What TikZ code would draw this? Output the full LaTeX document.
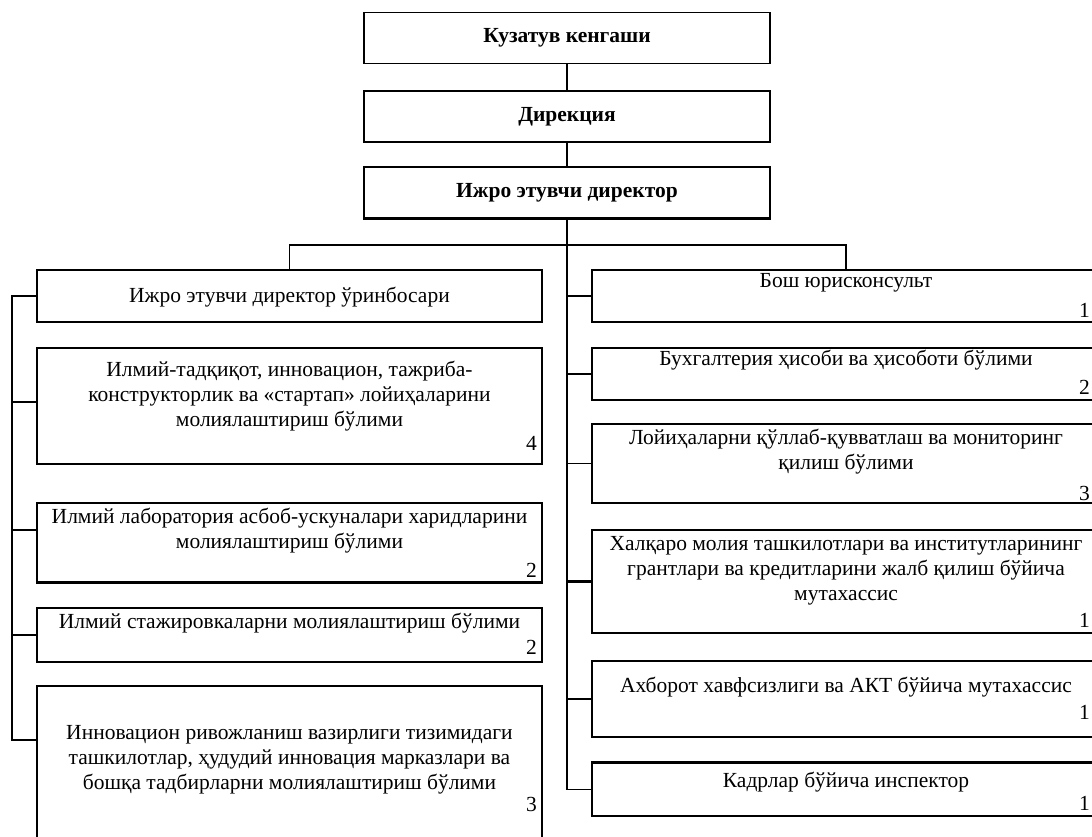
\documentclass[tikz,border=0pt]{standalone}
\usepackage{fontspec}
\setmainfont{Liberation Serif}
\usetikzlibrary{calc}

\begin{document}
\begin{tikzpicture}[x=1pt,y=-1pt,
    box/.style={draw,line width=1.5pt,inner sep=0pt},
    topbox/.style={box,minimum width=406pt,minimum height=51pt,font=\fontsize{21.5}{25}\selectfont\bfseries},
    lbox/.style={box,minimum width=505pt},
    rbox/.style={box,minimum width=508pt},
    txt/.style={align=center,inner sep=0pt,font=\fontsize{21.5}{25}\selectfont},
    num/.style={anchor=east,inner sep=0pt,font=\fontsize{21.5}{25}\selectfont},
    link/.style={line width=1.5pt}]
\useasboundingbox (0,0) rectangle (1092,837);
\clip (0,0) rectangle (1092,837);

% top of the chart
\node[topbox] (kuz) at (567,38) {Кузатув кенгаши};
\node[topbox] (dir) at (567,116.5) {Дирекция};
\node[topbox] (ijr) at (567,192.5) {Ижро этувчи директор};
\draw[line width=2.6pt] (ijr.south west) -- (ijr.south east);

% left column
\node[lbox,minimum height=52pt]  (dep) at (289.5,296) {};
\node[lbox,minimum height=116pt] (tad) at (289.5,406) {};
\node[lbox,minimum height=79pt]  (lab) at (289.5,542.5) {};
\node[lbox,minimum height=54pt]  (sta) at (289.5,635) {};
\node[lbox,minimum height=180pt] (inn) at (289.5,776) {};
\draw[line width=2.6pt] (lab.south west) -- (lab.south east);

\node[txt] (dep-t) at (289.5,297) {Ижро этувчи директор ўринбосари};
\node[txt] (tad-t) at (289.5,396) {Илмий-тадқиқот, инновацион, тажриба-\\конструкторлик ва «стартап» лойиҳаларини\\молиялаштириш бўлими};
\node[txt] (lab-t) at (289.5,531) {Илмий лаборатория асбоб-ускуналари харидларини\\молиялаштириш бўлими};
\node[txt] (sta-t) at (289.5,623) {Илмий стажировкаларни молиялаштириш бўлими};
\node[txt] (inn-t) at (289.5,760) {Инновацион ривожланиш вазирлиги тизимидаги\\ташкилотлар, ҳудудий инновация марказлари ва\\бошқа тадбирларни молиялаштириш бўлими};
\node[num] (tad-n) at (537,443) {4};
\node[num] (lab-n) at (537,570) {2};
\node[num] (sta-n) at (537,647) {2};
\node[num] (inn-n) at (537,804) {3};

% right column
\node[rbox,minimum height=52pt]  (bos) at (846,296) {};
\node[rbox,minimum height=52pt]  (buh) at (846,374) {};
\node[rbox,minimum height=79pt]  (loy) at (846,463.5) {};
\node[rbox,minimum height=103pt] (hal) at (846,581.5) {};
\node[rbox,minimum height=76pt]  (ahb) at (846,699) {};
\node[rbox,minimum height=53pt]  (kad) at (846,789.5) {};
\draw[line width=2.6pt] (kad.north west) -- (kad.north east);

\node[txt] (bos-t) at (846,283) {Бош юрисконсульт};
\node[txt] (buh-t) at (846,360) {Бухгалтерия ҳисоби ва ҳисоботи бўлими};
\node[txt] (loy-t) at (846,452) {Лойиҳаларни қўллаб-қувватлаш ва мониторинг\\қилиш бўлими};
\node[txt] (hal-t) at (846,571) {Халқаро молия ташкилотлари ва институтларининг\\грантлари ва кредитларини жалб қилиш бўйича\\мутахассис};
\node[txt] (ahb-t) at (846,687) {Ахборот хавфсизлиги ва АКТ бўйича мутахассис};
\node[txt] (kad-t) at (846,782) {Кадрлар бўйича инспектор};
\node[num] (bos-n) at (1090,310) {1};
\node[num] (buh-n) at (1090,387) {2};
\node[num] (loy-n) at (1090,493) {3};
\node[num] (hal-n) at (1090,620) {1};
\node[num] (ahb-n) at (1090,712) {1};
\node[num] (kad-n) at (1090,803) {1};

% connectors
\coordinate (bar) at (567,245);
\coordinate (lsp) at (12,296);
\draw[link] (kuz) -- (dir);
\draw[link] (dir) -- (ijr);
\draw[link] (ijr.south) -- (bar);
\draw[link] (dep.north) |- (bar) -| (bos.north);
% right spine
\draw[link] (bar) -- (bar |- kad.west) -- (kad.west);
\foreach \b in {bos,buh,loy,ahb}
  \draw[link] (bar |- \b.west) -- (\b.west);
\draw[line width=2.6pt] (bar |- hal.west) -- (hal.west);
% left spine
\draw[link] (dep.west) -- (lsp) -- (lsp |- 0,740) -- (inn.west |- 0,740);
\draw[link] (lsp |- 0,402) -- (tad.west |- 0,402);
\draw[link] (lsp |- 0,530) -- (lab.west |- 0,530);
\draw[link] (lsp |- sta.west) -- (sta.west);
\end{tikzpicture}
\end{document}
